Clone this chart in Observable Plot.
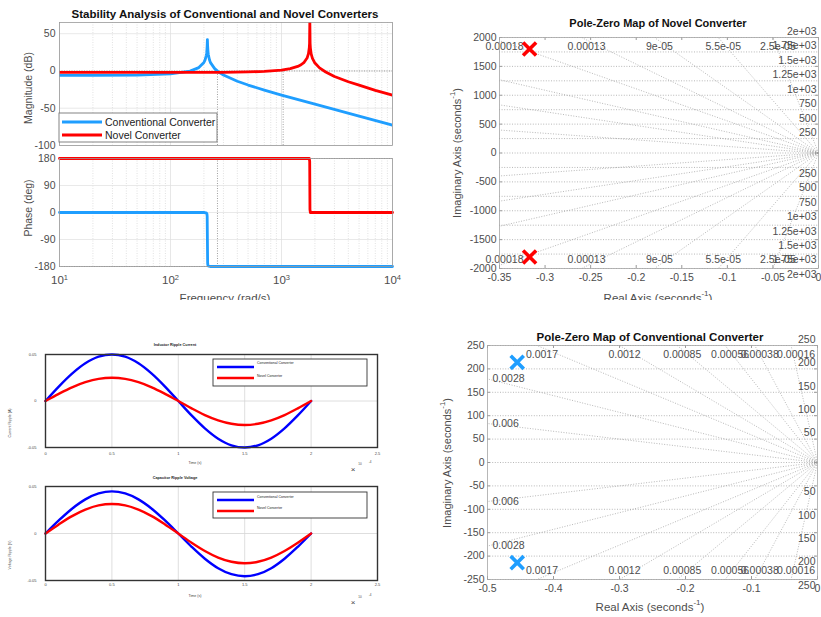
<!DOCTYPE html>
<html><head><meta charset="utf-8">
<script src="https://cdn.jsdelivr.net/npm/d3@7"></script>
<script src="https://cdn.jsdelivr.net/npm/@observablehq/plot@0.6"></script>
<style>
body{margin:0;background:#fff;font-family:"Liberation Sans",Arial,sans-serif;}
#root{position:relative;width:821px;height:617px;overflow:hidden;background:#fff}
#top{position:absolute;left:0;top:0;width:821px;height:300px;overflow:hidden}
#bot{position:absolute;left:0;top:300px;width:821px;height:317px;overflow:hidden}
</style></head><body><div id="root"><div id="top"></div><div id="bot"></div></div>
<script>
// ---------------- DATA ----------------
// Bode magnitude (rad/s, dB)
const convMagFreq = [10, 20, 50, 100, 150, 180, 200, 205, 210, 211, 212, 213, 214, 215, 216, 217, 218, 219, 220, 225, 230, 250, 270, 300, 400, 500, 700, 1000, 2000, 5000, 10000];
const convMagDb   = [-6.0, -5.9, -5.5, -3.9, -0.2, 4.5, 11.4, 14.8, 20.7, 22.7, 25.2, 28.7, 33.8, 42.0, 33.8, 28.6, 25.0, 22.5, 20.5, 14.4, 10.8, 3.1, -1.2, -5.5, -13.8, -18.9, -25.6, -32.3, -44.6, -60.6, -72.7];
const novelMagFreq = [10, 100, 300, 500, 700, 1000, 1200, 1400, 1500, 1600, 1700, 1750, 1780, 1790, 1800, 1810, 1820, 1850, 1900, 2000, 2200, 2500, 3000, 4000, 5000, 7000, 10000];
const novelMagDb   = [-2.0, -2.0, -1.8, -1.3, -0.6, 1.2, 3.1, 6.1, 8.3, 11.6, 17.3, 23.2, 31.1, 37.1, 67.0, 37.1, 31.0, 23.0, 16.9, 10.6, 4.1, -1.4, -7.5, -14.5, -19.0, -26.0, -32.5];
// Bode phase (rad/s, deg)
const convPhaseFreq = [10, 200, 208, 211, 213, 214, 215, 216, 217, 219, 222, 230, 10000];
const convPhaseDeg  = [0, 0, -1, -2, -5, -13, -90, -167, -175, -178, -179, -180, -180];
const novelPhaseFreq = [10, 1780, 1795, 1800, 1805, 1820, 10000];
const novelPhaseDeg  = [180, 180, 170, 90, 10, 0, 0];
const marginFreqs = [265, 1035];
const magTicks = [-100, -50, 0, 50];
const phaseTicks = [-180, -90, 0, 90, 180];
const freqDecades = [10, 100, 1000, 10000];

// Ripple waveforms (time in 1e-4 s)
const rippleTime = [0, 0.1, 0.2, 0.3, 0.4, 0.5, 0.6, 0.7, 0.8, 0.9, 1.0, 1.1, 1.2, 1.3, 1.4, 1.5, 1.6, 1.7, 1.8, 1.9, 2.0];
const convCurrent  = [0, 0.0155, 0.0294, 0.0405, 0.0476, 0.05, 0.0476, 0.0405, 0.0294, 0.0155, 0, -0.0155, -0.0294, -0.0405, -0.0476, -0.05, -0.0476, -0.0405, -0.0294, -0.0155, 0];
const novelCurrent = [0, 0.0077, 0.0147, 0.0202, 0.0238, 0.025, 0.0238, 0.0202, 0.0147, 0.0077, 0, -0.0079, -0.0151, -0.0208, -0.0245, -0.0258, -0.0245, -0.0208, -0.0151, -0.0079, 0];
const convVoltage  = [0, 0.0139, 0.0264, 0.0363, 0.0426, 0.0448, 0.0426, 0.0363, 0.0264, 0.0139, 0, -0.0141, -0.0268, -0.0369, -0.0433, -0.0455, -0.0433, -0.0369, -0.0268, -0.0141, 0];
const novelVoltage = [0, 0.0097, 0.0185, 0.0254, 0.0299, 0.0314, 0.0299, 0.0254, 0.0185, 0.0097, 0, -0.0098, -0.0186, -0.0256, -0.0301, -0.0317, -0.0301, -0.0256, -0.0186, -0.0098, 0];
const timeTicks = [0, 0.5, 1, 1.5, 2, 2.5];
const rippleTicks = [-0.05, 0, 0.05];

// Pole-zero maps
const novelPoleRe = [-0.317, -0.317];
const novelPoleIm = [1800, -1800];
const novelZeta = [0.00018, 0.00013, 0.00009, 0.000055, 0.000025, 0.000276, 0.00042, 0.00088];
const novelZetaTop = [0.00018, 0.00013, 0.00009, 0.000055, 0.000025];
const novelZetaTopText = ["0.00018", "0.00013", "9e-05", "5.5e-05", "2.5e-05"];
const novelZetaLeft = [];
const novelZetaLeftText = [];
const novelOmega = [250, 500, 750, 1000, 1250, 1500, 1750, 2000];
const novelOmegaText = ["250", "500", "750", "1e+03", "1.25e+03", "1.5e+03", "1.75e+03", "2e+03"];
const novelXTicks = [-0.35, -0.3, -0.25, -0.2, -0.15, -0.1, -0.05, 0];
const novelYTicks = [-2000, -1500, -1000, -500, 0, 500, 1000, 1500, 2000];

const convPoleRe = [-0.455, -0.455];
const convPoleIm = [214, -214];
const convZeta = [0.00016, 0.00038, 0.00056, 0.00085, 0.0012, 0.0017, 0.0028, 0.006];
const convZetaTop = [0.0017, 0.0012, 0.00085, 0.00056, 0.00038, 0.00016];
const convZetaTopText = ["0.0017", "0.0012", "0.00085", "0.00056", "0.00038", "0.00016"];
const convZetaLeft = [0.0028, 0.006];
const convZetaLeftText = ["0.0028", "0.006"];
const convOmega = [50, 100, 150, 200, 250];
const convOmegaText = ["50", "100", "150", "200", "250"];
const convXTicks = [-0.5, -0.4, -0.3, -0.2, -0.1, 0];
const convYTicks = [-250, -200, -150, -100, -50, 0, 50, 100, 150, 200, 250];

// ---------------- STYLE ----------------
const FONT = '"Liberation Sans", Arial, Helvetica, sans-serif';
const LBLUE = "#1f9eff", RED = "#ff0000", BLUE = "#0000ff";
const TXT = "#4d4d4d";
const fmt = d => (d < 0 ? "-" : "") + String(+Math.abs(d).toFixed(4));

function place(parent, el, left, top) {
  el.style.position = "absolute"; el.style.left = left + "px"; el.style.top = top + "px";
  document.getElementById(parent).appendChild(el);
}
const zip = (xs, ys) => xs.map((x, i) => ({x, y: ys[i]}));

// ---------------- BODE ----------------
const minorFreqs = [];
for (const dec of [10, 100, 1000]) for (let k = 2; k <= 9; k++) minorFreqs.push(k * dec);

const mag = Plot.plot({
  width: 400, height: 150, marginTop: 22, marginLeft: 59, marginRight: 8, marginBottom: 5,
  x: {type: "log", domain: [10, 10000], axis: null},
  y: {domain: [-100, 65], label: null},
  style: {fontFamily: FONT, fontSize: "10.5px", color: TXT, background: "transparent"},
  marks: [
    Plot.gridX(minorFreqs, {stroke: "#cfcfcf", strokeOpacity: 1, strokeWidth: 0.6, strokeDasharray: "1,1.5"}),
    Plot.gridX(freqDecades, {stroke: "#dcdcdc", strokeOpacity: 1, strokeWidth: 0.7}),
    Plot.gridY(magTicks, {stroke: "#e0e0e0", strokeOpacity: 1, strokeWidth: 0.7}),
    Plot.ruleY([0], {stroke: "#888", strokeWidth: 0.8, strokeDasharray: "1,1.5"}),
    Plot.ruleX(marginFreqs, {x: d => d, y1: -100, y2: 0, stroke: "#888", strokeWidth: 0.8, strokeDasharray: "1,1.5"}),
    Plot.line(zip(convMagFreq, convMagDb), {x: "x", y: "y", stroke: LBLUE, strokeWidth: 2.8, clip: true}),
    Plot.line(zip(novelMagFreq, novelMagDb), {x: "x", y: "y", stroke: RED, strokeWidth: 2.8, clip: true}),
    Plot.axisY(magTicks, {tickSize: 0, tickPadding: 4, label: null, tickFormat: fmt}),
    Plot.frame({stroke: "#9a9a9a", strokeWidth: 0.8})
  ]
});
place("top", mag, 0, 0);

const phase = Plot.plot({
  width: 400, height: 150, marginTop: 8, marginLeft: 59, marginRight: 8, marginBottom: 34,
  x: {type: "log", domain: [10, 10000], label: null},
  y: {domain: [-180, 180], label: null},
  style: {fontFamily: FONT, fontSize: "10.5px", color: TXT, background: "transparent", overflow: "visible"},
  marks: [
    Plot.gridX(minorFreqs, {stroke: "#cfcfcf", strokeOpacity: 1, strokeWidth: 0.6, strokeDasharray: "1,1.5"}),
    Plot.gridX(freqDecades, {stroke: "#dcdcdc", strokeOpacity: 1, strokeWidth: 0.7}),
    Plot.gridY(phaseTicks, {stroke: "#e0e0e0", strokeOpacity: 1, strokeWidth: 0.7}),
    Plot.ruleY([180, -180], {stroke: "#888", strokeWidth: 0.8, strokeDasharray: "1,1.5"}),
    Plot.ruleX([marginFreqs[0]], {x: d => d, stroke: "#888", strokeWidth: 0.8, strokeDasharray: "1,1.5"}),
    Plot.line(zip(convPhaseFreq, convPhaseDeg), {x: "x", y: "y", stroke: LBLUE, strokeWidth: 2.8}),
    Plot.line(zip(novelPhaseFreq, novelPhaseDeg), {x: "x", y: "y", stroke: RED, strokeWidth: 2.8}),
    Plot.axisY(phaseTicks, {tickSize: 0, tickPadding: 4, label: null, tickFormat: fmt}),
    Plot.axisX(freqDecades, {tickSize: 0, tickPadding: 9, label: null, fontSize: 11.5, tickFormat: d => "10^" + Math.round(Math.log10(d))}),
    Plot.frame({stroke: "#9a9a9a", strokeWidth: 0.8})
  ]
});
d3.select(phase).selectAll('g[aria-label="x-axis tick label"] text').each(function() {
  const s = this.textContent.split("^");
  if (s.length === 2) {
    this.textContent = s[0];
    d3.select(this).append("tspan").attr("dy", "-0.5em").attr("font-size", "7.5px").text(s[1]);
  }
});
place("top", phase, 0, 150);

// ---------------- POLE-ZERO ----------------
function pzPlot(cfg) {
  const {xmin, ymax, zetas, zTop, zTopText, zLeft, zLeftText, omegas, omegaText, poleRe, poleIm, color, xTicks, yTicks, w, h, m} = cfg;
  const slope = z => Math.sqrt(1 - z * z) / z;
  const rays = [];
  for (const z of zetas) {
    const s = slope(z), yl = -xmin * s;
    const [ex, ey] = yl <= ymax ? [xmin, yl] : [-ymax / s, ymax];
    rays.push({x2: ex, y2: ey}, {x2: ex, y2: -ey});
  }
  const topLabels = zTop.map((z, i) => ({x: Math.max(-ymax / slope(z), xmin), t: zTopText[i]}));
  const leftLabels = [];
  zLeft.forEach((z, i) => {
    const y = -xmin * slope(z);
    leftLabels.push({x: xmin, y, t: zLeftText[i]}, {x: xmin, y: -y, t: zLeftText[i]});
  });
  const wLabels = omegas.map((o, i) => ({y: o, t: omegaText[i]}));
  const circles = omegas.flatMap(o => [o, -o]);
  const ph = h - m.top - m.bottom, pw = w - m.left - m.right;
  const lab = {fill: TXT, fontSize: 10.5};
  return Plot.plot({
    width: w, height: h, marginTop: m.top, marginBottom: m.bottom, marginLeft: m.left, marginRight: m.right,
    x: {domain: [xmin, 0], label: null},
    y: {domain: [-ymax, ymax], label: null},
    style: {fontFamily: FONT, fontSize: "10.5px", color: TXT, background: "transparent", overflow: "visible"},
    marks: [
      Plot.ruleY(circles, {y: d => d, x1: xmin, x2: 0, stroke: "#9a9a9a", strokeWidth: 0.7, strokeDasharray: "1,1.6"}),
      Plot.ruleY([0], {x1: xmin, x2: 0, stroke: "#9a9a9a", strokeWidth: 0.7, strokeDasharray: "1,1.6"}),
      Plot.link(rays, {x1: 0, y1: 0, x2: "x2", y2: "y2", stroke: "#9a9a9a", strokeWidth: 0.7, strokeDasharray: "1,1.6"}),
      Plot.text(topLabels, {x: "x", y: ymax, text: "t", dx: 5, dy: 9, ...lab}),
      Plot.text(topLabels, {x: "x", y: -ymax, text: "t", dx: 5, dy: -9, ...lab}),
      Plot.text(leftLabels, {x: "x", y: "y", text: "t", dx: 5, textAnchor: "start", ...lab}),
      Plot.text(wLabels, {x: 0, y: "y", text: "t", dx: -2, dy: -6, textAnchor: "end", ...lab}),
      Plot.text(wLabels, {x: 0, y: d => -d.y, text: "t", dx: -2, dy: 6, textAnchor: "end", ...lab}),
      Plot.dot(zip(poleRe, poleIm), {x: "x", y: "y", symbol: "times", r: 6, stroke: color, strokeWidth: 3.6}),
      Plot.tickX(xTicks, {x: d => d, insetTop: ph - 3, stroke: "#9a9a9a"}),
      Plot.tickX(xTicks, {x: d => d, insetBottom: ph - 3, stroke: "#9a9a9a"}),
      Plot.tickY(yTicks, {y: d => d, insetRight: pw - 3, stroke: "#9a9a9a"}),
      Plot.tickY(yTicks, {y: d => d, insetLeft: pw - 3, stroke: "#9a9a9a"}),
      Plot.axisX(xTicks, {tickSize: 0, tickPadding: 5, label: null, tickFormat: fmt}),
      Plot.axisY(yTicks, {tickSize: 0, tickPadding: 3, label: null, tickFormat: fmt}),
      Plot.frame({stroke: "#a6a6a6", strokeWidth: 0.8})
    ]
  });
}

const novelPz = pzPlot({
  xmin: -0.35, ymax: 2000, zetas: novelZeta, zTop: novelZetaTop, zTopText: novelZetaTopText,
  zLeft: novelZetaLeft, zLeftText: novelZetaLeftText, omegas: novelOmega, omegaText: novelOmegaText,
  poleRe: novelPoleRe, poleIm: novelPoleIm, color: RED, xTicks: novelXTicks, yTicks: novelYTicks,
  w: 401, h: 300, m: {top: 37, bottom: 32, left: 79, right: 3}
});
place("top", novelPz, 420, 0);

const convPz = pzPlot({
  xmin: -0.5, ymax: 250, zetas: convZeta, zTop: convZetaTop, zTopText: convZetaTopText,
  zLeft: convZetaLeft, zLeftText: convZetaLeftText, omegas: convOmega, omegaText: convOmegaText,
  poleRe: convPoleRe, poleIm: convPoleIm, color: LBLUE, xTicks: convXTicks, yTicks: convYTicks,
  w: 401, h: 297, m: {top: 25, bottom: 38, left: 67, right: 4}
});
place("bot", convPz, 420, 20);

// ---------------- RIPPLE ----------------
function ripplePlot(conv, novel, h, mt, mb, pad) {
  return Plot.plot({
    width: 400, height: h, marginTop: mt, marginBottom: mb, marginLeft: 45, marginRight: 23,
    x: {domain: [0, 2.5], label: null},
    y: {domain: [-0.05, 0.05], label: null},
    style: {fontFamily: FONT, fontSize: "4px", color: "#444", background: "transparent", overflow: "visible"},
    marks: [
      Plot.gridX([0.5, 1, 1.5, 2], {stroke: "#d6d6d6", strokeOpacity: 1, strokeWidth: 0.8}),
      Plot.gridY([0], {stroke: "#d6d6d6", strokeOpacity: 1, strokeWidth: 0.8}),
      Plot.line(zip(rippleTime, conv), {x: "x", y: "y", stroke: BLUE, strokeWidth: 2.4, curve: "catmull-rom"}),
      Plot.line(zip(rippleTime, novel), {x: "x", y: "y", stroke: RED, strokeWidth: 2.4, curve: "catmull-rom"}),
      Plot.axisX(timeTicks, {tickSize: 0, tickPadding: pad, label: null, tickFormat: d => String(d)}),
      Plot.axisY(rippleTicks, {tickSize: 0, tickPadding: 9, label: null, tickFormat: fmt}),
      Plot.frame({stroke: "#333", strokeWidth: 1.4})
    ]
  });
}
place("bot", ripplePlot(convCurrent, novelCurrent, 140, 24, 23, 4.5), 0, 30);
place("bot", ripplePlot(convVoltage, novelVoltage, 147, 16, 37, 2.5), 0, 170);

// ---------------- ANNOTATIONS ----------------
function overlay(parent, w, h) {
  const s = d3.create("svg").attr("width", w).attr("height", h)
    .style("font-family", FONT).style("overflow", "visible");
  place(parent, s.node(), 0, 0);
  return s;
}
function txt(s, x, y, str, o = {}) {
  const t = s.append("text").attr("x", x).attr("y", y).attr("font-size", o.size || 10.5)
    .attr("fill", o.fill || TXT).attr("text-anchor", o.anchor || "middle").attr("dominant-baseline", "central");
  if (o.bold) t.attr("font-weight", "bold");
  if (o.rotate) t.attr("transform", `rotate(-90 ${x} ${y})`);
  t.text(str);
  if (o.sup) {
    t.append("tspan").attr("baseline-shift", "super").attr("font-size", (o.size || 10.5) * 0.7).text(o.sup);
    t.append("tspan").text(o.after || "");
  }
  return t;
}
function legend(s, x0, x1, y0, y1, rows, size, lineW, lx0, lx1, tx, strokeBox) {
  s.append("rect").attr("x", x0).attr("y", y0).attr("width", x1 - x0).attr("height", y1 - y0)
    .attr("fill", "#fff").attr("stroke", strokeBox).attr("stroke-width", 0.9);
  rows.forEach(r => {
    s.append("line").attr("x1", lx0).attr("x2", lx1).attr("y1", r.ly).attr("y2", r.ly).attr("stroke", r.c).attr("stroke-width", lineW);
    txt(s, tx, r.ty, r.t, {size, anchor: "start", fill: "#222"});
  });
}

const topO = overlay("top", 821, 300);
txt(topO, 225, 14, "Stability Analysis of Conventional and Novel Converters", {size: 11.5, bold: true, fill: "#111"});
txt(topO, 28, 88, "Magnitude (dB)", {rotate: true, size: 10.5});
txt(topO, 28, 208, "Phase (deg)", {rotate: true, size: 10.5});
txt(topO, 225, 298, "Frequency  (rad/s)", {size: 11.5});
legend(topO, 59, 217, 113, 142, [
  {ly: 122, ty: 122, c: LBLUE, t: "Conventional Converter"},
  {ly: 135, ty: 135, c: RED, t: "Novel Converter"}
], 10.5, 2.8, 62, 102, 105, "#777");
txt(topO, 658, 23, "Pole-Zero Map of Novel Converter", {size: 11, bold: true, fill: "#111"});
txt(topO, 457, 153, "Imaginary Axis (seconds", {rotate: true, size: 11, sup: "-1", after: ")"});
txt(topO, 658, 298, "Real Axis (seconds", {size: 11.5, sup: "-1", after: ")"});

const botO = overlay("bot", 821, 317);
// ripple (coordinates relative to #bot, which starts at y=300)
txt(botO, 175, 45, "Inductor Ripple Current", {size: 3.8, bold: true, fill: "#222"});
txt(botO, 10, 123, "Current Ripple (A)", {size: 3.6, rotate: true, fill: "#444"});
txt(botO, 195, 163, "Time (s)", {size: 3.6, fill: "#444"});
txt(botO, 353, 169, "×", {size: 8, fill: "#444"});
txt(botO, 360, 164, "10", {size: 3, fill: "#444"});
txt(botO, 370, 162, "-4", {size: 3, fill: "#444"});
legend(botO, 213, 367, 59, 86, [
  {ly: 67, ty: 63, c: BLUE, t: "Conventional Converter"},
  {ly: 78, ty: 76, c: RED, t: "Novel Converter"}
], 3.5, 2.4, 217, 254, 257, "#333");

txt(botO, 175, 178, "Capacitor Ripple Voltage", {size: 3.8, bold: true, fill: "#222"});
txt(botO, 10, 255, "Voltage Ripple (V)", {size: 3.6, rotate: true, fill: "#444"});
txt(botO, 195, 296, "Time (s)", {size: 3.6, fill: "#444"});
txt(botO, 353, 302, "×", {size: 8, fill: "#444"});
txt(botO, 360, 297, "10", {size: 3, fill: "#444"});
txt(botO, 370, 295, "-4", {size: 3, fill: "#444"});
legend(botO, 213, 367, 192, 218, [
  {ly: 200, ty: 197, c: BLUE, t: "Conventional Converter"},
  {ly: 211, ty: 208, c: RED, t: "Novel Converter"}
], 3.5, 2.4, 217, 254, 257, "#333");

txt(botO, 650, 37, "Pole-Zero Map of Conventional Converter", {size: 11.5, bold: true, fill: "#111"});
txt(botO, 447, 163, "Imaginary Axis (seconds", {rotate: true, size: 11, sup: "-1", after: ")"});
txt(botO, 650, 307, "Real Axis (seconds", {size: 11.5, sup: "-1", after: ")"});
</script></body></html>
